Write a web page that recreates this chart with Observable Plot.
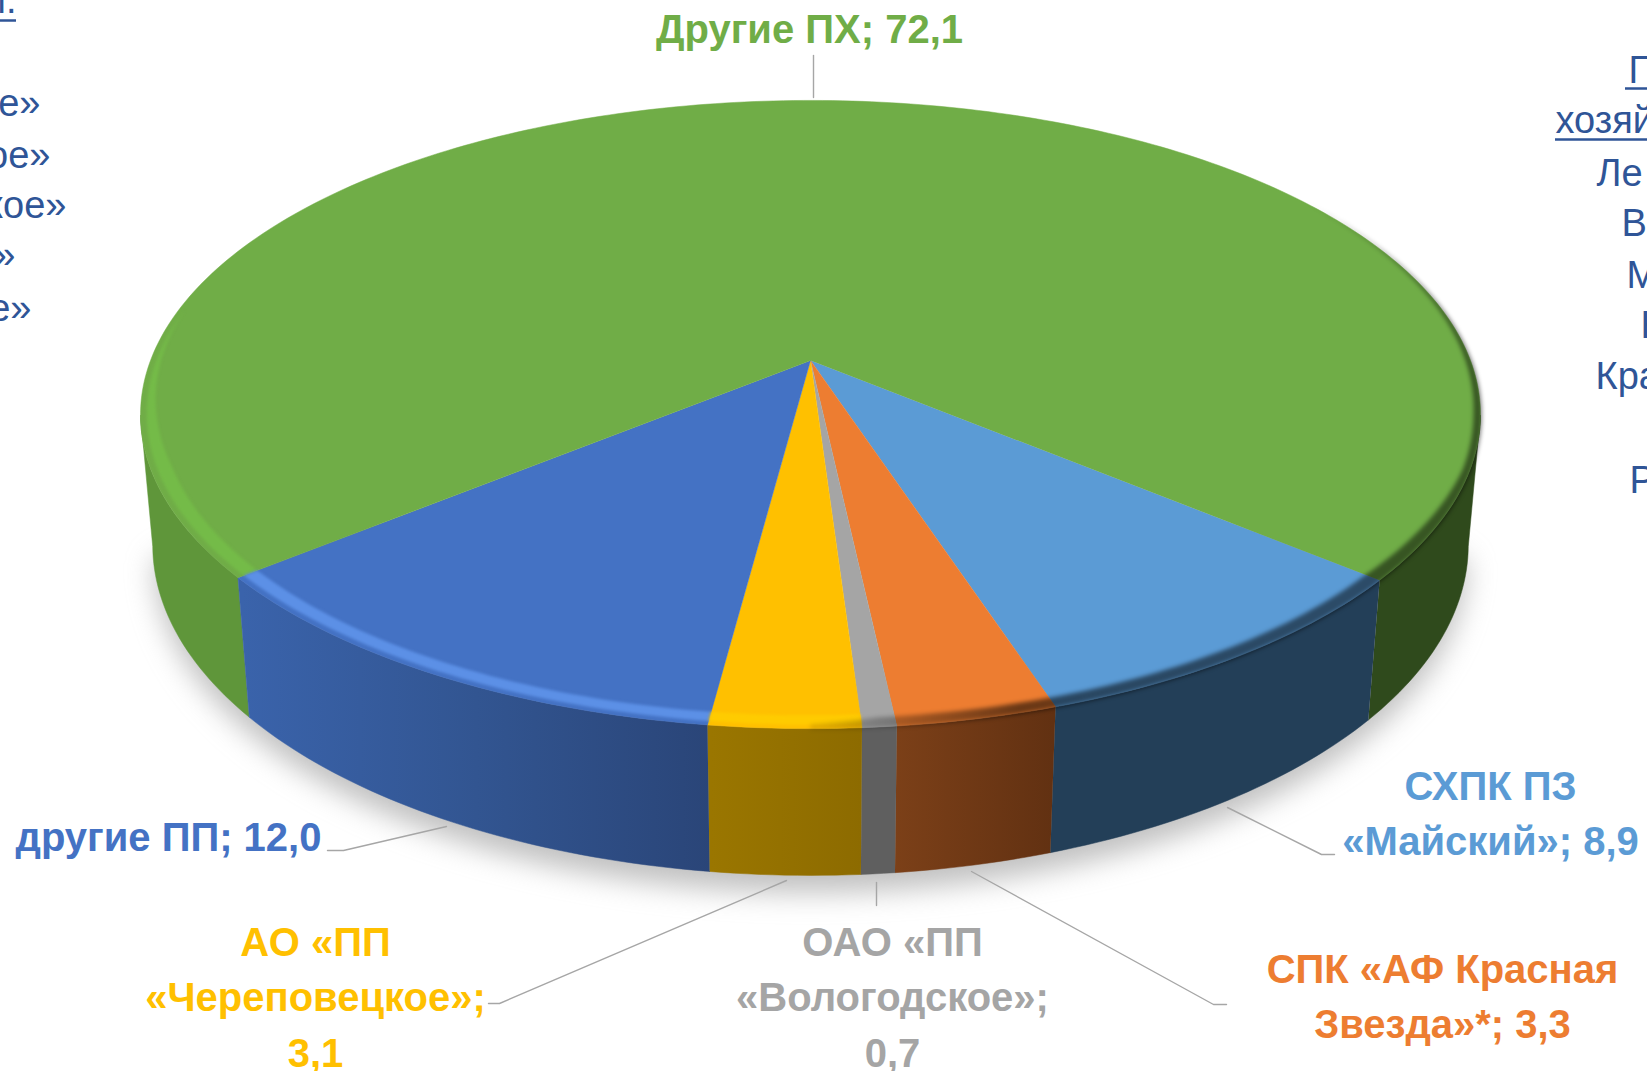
<!DOCTYPE html>
<html lang="ru">
<head>
<meta charset="utf-8">
<script src="https://cdn.jsdelivr.net/npm/d3@7"></script>
<script src="https://cdn.jsdelivr.net/npm/@observablehq/plot@0.6"></script>
<style>
html,body{margin:0;padding:0;background:#fff;overflow:hidden}
svg{display:block}
</style>
</head>
<body>
<div id="chart"></div>
<script>
// --- chart values, clockwise from the right-hand edge of the front sector
const names  = ["СХПК ПЗ «Майский»", "СПК «АФ Красная Звезда»*", "ОАО «ПП «Вологодское»", "АО «ПП «Череповецкое»", "другие ПП", "Другие ПХ"];
const values = [8.9, 3.3, 0.7, 3.1, 12.0, 72.1];
const topColors = ["#5b9bd5", "#ed7d31", "#a5a5a5", "#ffc000", "#4472c4", "#70ad47"];
const rimColors = ["#5b9bd5", "#ed7d31", "#a5a5a5", "#ffcb00", "#5c90e6", "#74bb48"];
const sideFills = ["#233f58", "url(#sideOrange)", "#5f5f5f", "url(#sideYellow)", "url(#sideBlue)", "#5f963a"];

// --- data labels
const labelTexts = ["Другие ПХ; 72,1", "другие ПП; 12,0", "АО «ПП\n«Череповецкое»;\n3,1", "ОАО «ПП\n«Вологодское»;\n0,7", "СПК «АФ Красная\nЗвезда»*; 3,3", "СХПК ПЗ\n«Майский»; 8,9"];
const labelX = [809, 168, 315, 892, 1442, 1490];
const labelY = [25, 833, 993, 993, 992, 809];
const labelColors = ["#70ad47", "#4472c4", "#ffc000", "#a5a5a5", "#ed7d31", "#5b9bd5"];

// --- leader lines
const leaderIds = [0,0, 1,1,1, 2,2,2, 3,3, 4,4,4, 5,5,5];
const leaderX = [813,813, 327,343,446, 488,499,786, 876,876, 971,1213,1226, 1227,1321,1334];
const leaderY = [55,97, 850,850,826, 1003,1003,880, 882,905, 871,1004,1004, 807,854,854];

// --- blue side text, cut by the picture edge
const sideTexts = ["е»", "ое»", "кое»", "»", "е»", "л.", "П", "хозяй", "Ле", "В", "М", "Н", "Кра", "Р"];
const sideX = [40, 50, 66, 15, 31, 16, 1628, 1555, 1596, 1621, 1626, 1640, 1595, 1629];
const sideY = [115, 167, 217, 267, 320, 12, 82, 132, 185, 235, 287, 337, 388, 492];
const sideAnchor = ["end","end","end","end","end","end","start","start","start","start","start","start","start","start"];
const underlineX1 = [0, 1625, 1555];
const underlineX2 = [16, 1647, 1647];
const underlineY = [20, 88, 139];

// --- perspective of the disc
const cx = 810, cy = 360, a = 660, b = 304.8, k = 0.172, m = 0.018, c = 130.8, turn = -0.25, tangent = 80;
const project = (phi, r, h) => {
  const u = r * Math.sin(phi * Math.PI / 180), v = r * Math.cos(phi * Math.PI / 180);
  const w = 1 - k * v + m * h;
  return {x: cx + a * u / w, y: cy + (b * v + c * h) / w};
};
const arc = (from, to, r, h) => {
  const n = Math.max(2, Math.ceil(Math.abs(to - from)));
  return d3.range(n + 1).map(i => project(from + (to - from) * i / n, typeof r === "function" ? r(from + (to - from) * i / n) : r, h));
};

const total = d3.sum(values);
const startPhi = (total - values[5]) / total * 180 + turn;
let run = startPhi;
const sectors = values.map((val, i) => {
  const from = run, to = run - val / total * 360;
  run = to;
  return {i, from, to};
});
const endPhi = sectors[4].to;

const marks = [];

// gradient definitions
marks.push(() => {
  const defs = d3.create("svg:defs");
  const grad = (id, x1, x2, stops) => {
    const g = defs.append("linearGradient").attr("id", id).attr("gradientUnits", "userSpaceOnUse")
      .attr("x1", x1).attr("x2", x2).attr("y1", 0).attr("y2", 0);
    for (const [o, col, op] of stops) g.append("stop").attr("offset", o).attr("stop-color", col).attr("stop-opacity", op ?? 1);
  };
  grad("sideBlue", 242, 711, [[0, "#3a63ab"], [0.5, "#325591"], [1, "#2a4578"]]);
  grad("sideOrange", 893, 1052, [[0, "#7c4018"], [1, "#623112"]]);
  grad("sideYellow", 711, 861, [[0, "#9a7600"], [1, "#8d6b00"]]);
  grad("shade", 820, 1481, [[0, "#000000", 0.12], [0.3, "#000000", 0.55], [1, "#000000", 0.5]]);
  return defs.node();
});

// soft shadow below the disc
marks.push(Plot.line([...arc(-tangent, tangent, 1.0, 1.12), ...arc(tangent, -tangent, 0.7, 0.5)], {
  x: "x", y: "y", fill: "#999999", stroke: "none", fillOpacity: 0.62, imageFilter: "blur(14px)"
}));

// side walls
const wall = (from, to, fill) => Plot.line([...arc(from, to, 1, 0), ...arc(to, from, 1, 1)], {
  x: "x", y: "y", fill, stroke: fill, strokeWidth: 0.5
});
marks.push(wall(startPhi, tangent, "#2f4a1c"));
marks.push(wall(endPhi, -tangent, sideFills[5]));
for (const s of sectors.slice(0, 5)) marks.push(wall(s.from, s.to, sideFills[s.i]));

// top faces
for (const s of sectors) {
  marks.push(Plot.line([{x: cx, y: cy}, ...arc(s.from, s.to, 1, 0)], {
    x: "x", y: "y", fill: topColors[s.i], stroke: topColors[s.i], strokeWidth: 0.5
  }));
}

// light rim on the left-front part of the disc
const lightInner = phi => 0.991 - 0.021 * Math.min(1, Math.max(0, (phi + 100) / 30));
for (const [i, from, to] of [[5, -100, endPhi], [4, endPhi, sectors[4].from], [3, sectors[3].to, sectors[3].from]]) {
  marks.push(Plot.line([...arc(from, to, 0.991, 0), ...arc(to, from, lightInner, 0)], {
    x: "x", y: "y", fill: rimColors[i], stroke: "none", imageFilter: "blur(1.6px)"
  }));
}

// dark rim on the right-hand part of the disc
const darkInner = phi => 1.002 - 0.012 * Math.min(1, Math.max(0, (phi - 0) / 5)) * Math.min(1, Math.max(0, (125 - phi) / 45)) - 0.012 * Math.min(1, Math.max(0, (70 - phi) / 20));
marks.push(Plot.line([...arc(0, 125, 1.002, 0), ...arc(125, 0, darkInner, 0)], {
  x: "x", y: "y", fill: "url(#shade)", stroke: "none", imageFilter: "blur(2.2px)"
}));

// leaders
const leaderRows = leaderIds.map((id, i) => ({id, x: leaderX[i], y: leaderY[i]}));
marks.push(Plot.line(leaderRows, {x: "x", y: "y", z: "id", stroke: "#a6a6a6", strokeWidth: 1.4, curve: "linear"}));

// data labels
labelTexts.forEach((t, i) => {
  marks.push(Plot.text([t], {
    x: () => labelX[i], y: () => labelY[i], text: d => d,
    fill: labelColors[i], fontSize: 40, fontWeight: 700, lineHeight: 1.39,
    fontFamily: "Liberation Sans, Arial, sans-serif", textAnchor: "middle"
  }));
});

// side texts
const sideRows = sideTexts.map((t, i) => ({t, x: sideX[i], y: sideY[i], anchor: sideAnchor[i]}));
for (const anchor of ["start", "end"]) {
  marks.push(Plot.text(sideRows.filter(d => d.anchor === anchor), {
    x: "x", y: "y", text: "t", fill: "#2f5597", fontSize: 38, lineAnchor: "bottom",
    fontFamily: "Liberation Sans, Arial, sans-serif", textAnchor: anchor
  }));
}
marks.push(Plot.ruleY(underlineY.map((y, i) => ({y, x1: underlineX1[i], x2: underlineX2[i]})), {
  y: "y", x1: "x1", x2: "x2", stroke: "#2f5597", strokeWidth: 2.5
}));

const chart = Plot.plot({
  width: 1647, height: 1071,
  marginTop: 0, marginRight: 0, marginBottom: 0, marginLeft: 0,
  x: {domain: [0, 1647], range: [0, 1647], axis: null},
  y: {domain: [0, 1071], range: [0, 1071], axis: null},
  style: {background: "#fff"},
  marks
});
document.getElementById("chart").append(chart);
</script>
</body>
</html>
